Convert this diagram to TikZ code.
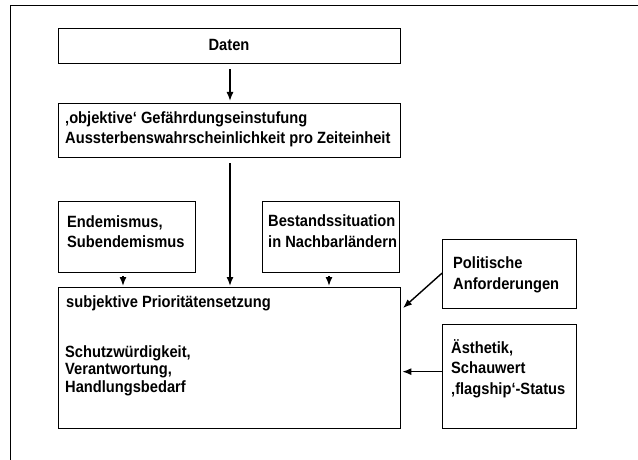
\documentclass[tikz,border=0pt]{standalone}
\usepackage{fontspec}
\setmainfont{Liberation Sans}[FakeStretch=0.9]
\usetikzlibrary{arrows.meta,calc}
\tikzset{
  box/.style={draw, line width=1.3pt, anchor=north west, inner sep=0pt},
  txt/.style={anchor=west, inner sep=0pt, align=left, font=\fontsize{16.3}{20.5}\selectfont\bfseries},
  conn/.style={line width=1.4pt, -{Latex[length=9pt,width=7pt]}}
}
\begin{document}
\begin{tikzpicture}[x=1pt,y=-1pt]
\useasboundingbox (0,0) rectangle (638,460);
% outer frame (top and left only)
\draw[line width=1pt] (10,460) -- (10,6) -- (638,6);
% boxes
\node[box, minimum width=342pt, minimum height=35pt] (daten) at (58,28) {};
\node[box, minimum width=342pt, minimum height=54pt] (obj) at (58,103) {};
\node[box, minimum width=137pt, minimum height=71pt] (endem) at (58,201) {};
\node[box, minimum width=137pt, minimum height=71pt] (best) at (262,201) {};
\node[box, minimum width=342pt, minimum height=141pt] (subj) at (58,287) {};
\node[box, minimum width=134pt, minimum height=69pt] (pol) at (442,239) {};
\node[box, minimum width=134pt, minimum height=104pt] (aes) at (442,324) {};
% texts
\node[txt, anchor=center] (datent) at (229,45) {Daten};
\node[txt] (objt) at (65,129.5) {‚objektive‘ Gefährdungseinstufung\\Aussterbenswahrscheinlichkeit pro Zeiteinheit};
\node[txt] (endemt) at (67,231.5) {Endemismus,\\Subendemismus};
\node[txt] (bestt) at (268,231) {Bestandssituation\\in Nachbarländern};
\node[txt] (polt) at (453,275) {Politische\\Anforderungen};
\node[txt] (aest) at (451,368.5) {Ästhetik,\\Schauwert\\‚flagship‘-Status};
\node[txt] (subjt1) at (66,303) {subjektive Prioritätensetzung};
\node[txt, font=\fontsize{16.3}{17.5}\selectfont\bfseries] (subjt2) at (65,370.5) {Schutzwürdigkeit,\\Verantwortung,\\Handlungsbedarf};
% connectors
\draw[conn, shorten <=5pt, shorten >=2pt] (daten.south -| 230,0) -- (obj.north -| 230,0);
\draw[conn, shorten <=5pt, shorten >=1pt] (obj.south -| 230,0) -- (subj.north -| 230,0);
\draw[conn, shorten <=3pt, shorten >=1pt] (endem.south -| 123,0) -- (subj.north -| 123,0);
\draw[conn, shorten <=3pt, shorten >=1pt] (best.south -| 329,0) -- (subj.north -| 329,0);
\coordinate (poltip) at (403,308);
\draw[conn] ([yshift=1pt]pol.west) -- (poltip);
\draw[conn, shorten >=1pt] ([yshift=5pt]aes.west) -- ([yshift=5pt]aes.west -| subj.east);
\end{tikzpicture}
\end{document}
